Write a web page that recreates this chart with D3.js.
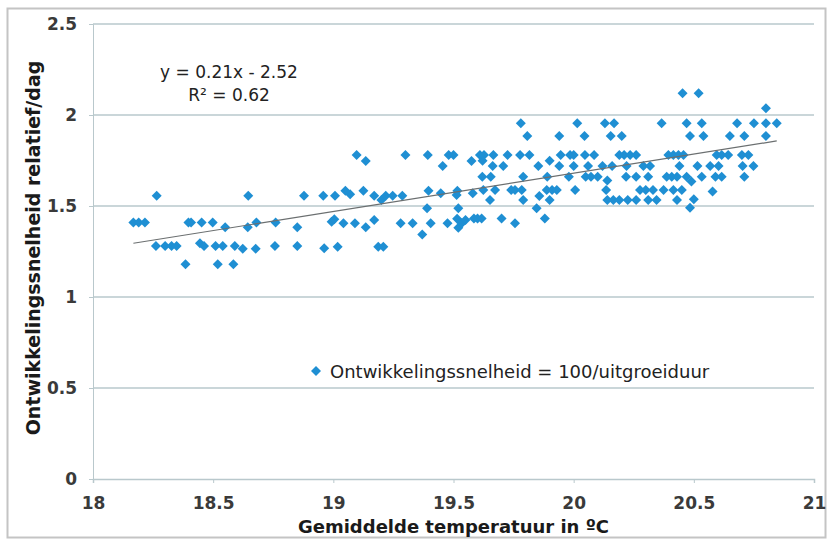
<!DOCTYPE html>
<html>
<head>
<meta charset="utf-8">
<script src="https://cdn.jsdelivr.net/npm/d3@7"></script>
<style>
  body { margin: 0; background: #fff; }
  text { font-family: "DejaVu Sans", Verdana, sans-serif; }
</style>
</head>
<body>
<div id="chart"></div>
<script>
const width = 829;
const height = 547;

// axis ticks
const xTicks = [18, 18.5, 19, 19.5, 20, 20.5, 21];
const yTicks = [0, 0.5, 1, 1.5, 2, 2.5];

// linear trend shown on the chart
const slope = 0.21;
const intercept = -2.52;
const equation = "y = 0.21x - 2.52";
const rSquared = "R² = 0.62";

const xTitle = "Gemiddelde temperatuur in ºC";
const yTitle = "Ontwikkelingssnelheid relatief/dag";
const seriesName = "Ontwikkelingssnelheid = 100/uitgroeiduur";

// [temperature, rate]
const obs = [
  [18.385, 1.18], [18.519, 1.18], [18.584, 1.18],
  [18.262, 1.28], [18.30, 1.28], [18.327, 1.28], [18.348, 1.28], [18.445, 1.295],
  [18.462, 1.28], [18.51, 1.28], [18.54, 1.28], [18.59, 1.28], [18.623, 1.265],
  [18.677, 1.265], [18.757, 1.28], [18.85, 1.28], [18.962, 1.268], [19.018, 1.276],
  [19.187, 1.276], [19.208, 1.276],
  [19.37, 1.344],
  [18.55, 1.383], [18.644, 1.383], [18.85, 1.383], [19.135, 1.383], [19.52, 1.38],
  [18.168, 1.41], [18.19, 1.41], [18.216, 1.41], [18.397, 1.41], [18.408, 1.41],
  [18.452, 1.41], [18.498, 1.41], [18.68, 1.41], [18.76, 1.41], [19.042, 1.405],
  [19.09, 1.405], [19.28, 1.405], [19.33, 1.405], [19.405, 1.405], [19.475, 1.405],
  [19.534, 1.405], [19.756, 1.405],
  [18.993, 1.414], [19.004, 1.427], [19.17, 1.423], [19.515, 1.43], [19.55, 1.423],
  [19.585, 1.432], [19.60, 1.432], [19.617, 1.432], [19.70, 1.432], [19.88, 1.432],
  [19.39, 1.487], [19.52, 1.487], [19.846, 1.487], [20.484, 1.491],
  [19.20, 1.533], [19.652, 1.533], [19.79, 1.533], [19.90, 1.533], [20.14, 1.533],
  [20.165, 1.533], [20.19, 1.533], [20.225, 1.533], [20.26, 1.533], [20.31, 1.533],
  [20.345, 1.533], [20.43, 1.533], [20.50, 1.537],
  [19.857, 1.555],
  [18.265, 1.557], [18.646, 1.557], [18.878, 1.557], [18.958, 1.557], [19.007, 1.557],
  [19.07, 1.564], [19.17, 1.557], [19.218, 1.557], [19.247, 1.557], [19.287, 1.557],
  [19.513, 1.56], [19.58, 1.57],
  [19.05, 1.584], [19.125, 1.584], [19.396, 1.584], [19.447, 1.57], [19.516, 1.584],
  [19.624, 1.588], [19.673, 1.588], [19.74, 1.588], [19.756, 1.588], [19.784, 1.588],
  [19.888, 1.588], [19.91, 1.588], [19.93, 1.588], [20.006, 1.588], [20.135, 1.588],
  [20.276, 1.588], [20.30, 1.588], [20.33, 1.588], [20.374, 1.588], [20.415, 1.588],
  [20.45, 1.588], [20.578, 1.579],
  [20.14, 1.64], [20.49, 1.634],
  [19.62, 1.661], [19.655, 1.661], [19.79, 1.661], [19.89, 1.661], [19.98, 1.661],
  [20.05, 1.661], [20.072, 1.661], [20.10, 1.661], [20.218, 1.661], [20.26, 1.661],
  [20.31, 1.661], [20.387, 1.661], [20.408, 1.661], [20.43, 1.661], [20.47, 1.661],
  [20.533, 1.661], [20.59, 1.661], [20.616, 1.661], [20.71, 1.661],
  [19.455, 1.72], [19.663, 1.72], [19.707, 1.72], [19.853, 1.72], [19.94, 1.72],
  [20.0, 1.72], [20.06, 1.72], [20.12, 1.72], [20.16, 1.72], [20.22, 1.72],
  [20.29, 1.72], [20.318, 1.72], [20.44, 1.72], [20.515, 1.72], [20.568, 1.72],
  [20.603, 1.72], [20.703, 1.72], [20.748, 1.72],
  [19.135, 1.747], [19.575, 1.747], [19.621, 1.749], [19.90, 1.749],
  [19.097, 1.78], [19.30, 1.78], [19.393, 1.78], [19.48, 1.78], [19.50, 1.78],
  [19.61, 1.78], [19.627, 1.78], [19.666, 1.78], [19.725, 1.78], [19.777, 1.78],
  [19.816, 1.78], [19.946, 1.78], [19.985, 1.78], [20.0, 1.78], [20.047, 1.78],
  [20.085, 1.78], [20.19, 1.78], [20.21, 1.78], [20.235, 1.78], [20.26, 1.78],
  [20.394, 1.78], [20.415, 1.78], [20.436, 1.78], [20.457, 1.78], [20.595, 1.78],
  [20.616, 1.78], [20.643, 1.78], [20.70, 1.78], [20.727, 1.78],
  [19.807, 1.885], [19.94, 1.885], [20.045, 1.885], [20.154, 1.885], [20.2, 1.885],
  [20.484, 1.885], [20.54, 1.885], [20.65, 1.885], [20.71, 1.885], [20.80, 1.885],
  [19.78, 1.954], [20.015, 1.954], [20.13, 1.954], [20.168, 1.954], [20.366, 1.954],
  [20.47, 1.954], [20.533, 1.954], [20.68, 1.954], [20.75, 1.954], [20.80, 1.954],
  [20.845, 1.954],
  [20.80, 2.037],
  [20.453, 2.119], [20.52, 2.119]
];

const blue = "#1f8fd3";
const gridColor = "#b9c8cc";
const labelColor = "#3a3a3a";

const svg = d3.select("#chart").append("svg")
  .attr("width", width).attr("height", height);

// outer frame
svg.append("rect")
  .attr("x", 7.5).attr("y", 8.5)
  .attr("width", 818).attr("height", 529)
  .attr("fill", "#fff").attr("stroke", "#c4c4c4").attr("stroke-width", 2);

const x = d3.scaleLinear().domain([18, 21]).range([93, 814]);
const y = d3.scaleLinear().domain([0, 2.5]).range([479, 24]);

// y axis with grid
const yAxis = svg.append("g")
  .attr("transform", `translate(${x(18)},0)`)
  .call(d3.axisLeft(y).tickValues(yTicks).tickSize(4).tickPadding(12).tickFormat(d => d));
yAxis.select(".domain").attr("stroke", gridColor);
yAxis.selectAll(".tick line").attr("stroke", gridColor);
yAxis.selectAll(".tick text")
  .attr("fill", labelColor).style("font-size", "17px").style("font-weight", "bold");

svg.append("g").selectAll("line")
  .data(yTicks.filter(d => d > 0))
  .join("line")
  .attr("x1", x(18)).attr("x2", x(21))
  .attr("y1", d => y(d)).attr("y2", d => y(d))
  .attr("stroke", gridColor).attr("stroke-width", 1.5);

// x axis
const xAxis = svg.append("g")
  .attr("transform", `translate(0,${y(0)})`)
  .call(d3.axisBottom(x).tickValues(xTicks).tickSize(4).tickPadding(14).tickFormat(d => d));
xAxis.select(".domain").attr("stroke", gridColor).attr("stroke-width", 1.5);
xAxis.selectAll(".tick line").attr("stroke", gridColor);
xAxis.selectAll(".tick text")
  .attr("fill", labelColor).style("font-size", "17px").style("font-weight", "bold");

// points
const diamond = d3.symbol(d3.symbolSquare, 50);
svg.append("g").selectAll("path")
  .data(obs)
  .join("path")
  .attr("d", diamond)
  .attr("transform", d => `translate(${x(d[0])},${y(d[1])}) rotate(45)`)
  .attr("fill", blue);

// trend line
const xMin = d3.min(obs, d => d[0]);
const xMax = d3.max(obs, d => d[0]);
svg.append("line")
  .attr("x1", x(xMin)).attr("y1", y(slope * xMin + intercept))
  .attr("x2", x(xMax)).attr("y2", y(slope * xMax + intercept))
  .attr("stroke", "#6b6f70").attr("stroke-width", 1.2);

// equation
svg.append("text")
  .attr("x", 229).attr("y", 78).attr("text-anchor", "middle")
  .attr("fill", "#222").style("font-size", "17px")
  .text(equation);
svg.append("text")
  .attr("x", 229).attr("y", 101).attr("text-anchor", "middle")
  .attr("fill", "#222").style("font-size", "17px")
  .text(rSquared);

// legend
svg.append("path")
  .attr("d", diamond)
  .attr("transform", `translate(316,371) rotate(45)`)
  .attr("fill", blue);
svg.append("text")
  .attr("x", 330).attr("y", 378)
  .attr("fill", "#222").style("font-size", "18px")
  .text(seriesName);

// axis titles
svg.append("text")
  .attr("x", x(19.5)).attr("y", 533).attr("text-anchor", "middle")
  .attr("fill", "#1a1a1a").style("font-size", "18px").style("font-weight", "bold")
  .text(xTitle);
svg.append("text")
  .attr("transform", `translate(40,248) rotate(-90)`)
  .attr("text-anchor", "middle")
  .attr("fill", "#1a1a1a").style("font-size", "19px").style("font-weight", "bold")
  .text(yTitle);
</script>
</body>
</html>
